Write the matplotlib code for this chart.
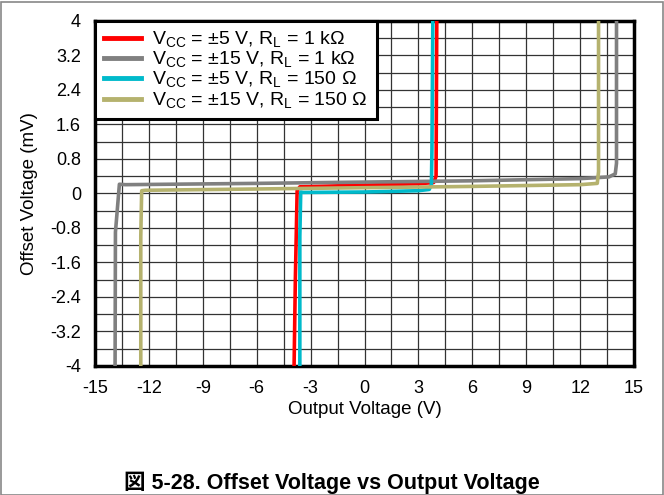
import matplotlib.pyplot as plt
import matplotlib.patches as mpatches

plt.rcParams['font.family'] = ['Liberation Sans', 'DejaVu Sans']
plt.rcParams['mathtext.fontset'] = 'custom'
plt.rcParams['mathtext.rm'] = 'Liberation Sans'

# output voltage (V) vs offset voltage (mV)
red_x = [-3.92, -3.85, -3.75, -3.6, 0.0, 3.0, 3.85, 3.98, 4.02]
red_y = [-4.0, -2.0, 0.06, 0.15, 0.19, 0.22, 0.25, 0.4, 4.0]

gray_x = [-13.88, -13.86, -13.8, -13.64, -13.3, -6.0, 0.0, 6.0, 12.0, 13.6, 13.95, 14.02, 14.02]
gray_y = [-4.0, -0.9, -0.6, 0.21, 0.2, 0.23, 0.26, 0.29, 0.34, 0.38, 0.45, 0.7, 4.0]

cyan_x = [-3.6, -3.6, -3.55, -3.4, 0.0, 3.0, 3.6, 3.72, 3.75, 3.8]
cyan_y = [-4.0, -1.0, 0.03, 0.02, 0.03, 0.06, 0.09, 0.2, 1.0, 4.0]

tan_x = [-12.45, -12.45, -12.4, -12.2, -6.0, 0.0, 6.0, 12.0, 12.95, 13.02, 13.02]
tan_y = [-4.0, -1.0, 0.06, 0.07, 0.1, 0.13, 0.16, 0.2, 0.23, 0.5, 4.0]

labels = [r'V$_{\mathrm{CC}}$ = ±5 V, R$_{\mathrm{L}}$ = 1 kΩ',
          r'V$_{\mathrm{CC}}$ = ±15 V, R$_{\mathrm{L}}$ = 1 kΩ',
          r'V$_{\mathrm{CC}}$ = ±5 V, R$_{\mathrm{L}}$ = 150 Ω',
          r'V$_{\mathrm{CC}}$ = ±15 V, R$_{\mathrm{L}}$ = 150 Ω']
colors = ['#ff0000', '#808080', '#00bacb', '#b5b26e']

x_ticks = [-15, -12, -9, -6, -3, 0, 3, 6, 9, 12, 15]
y_ticks = [-4, -3.2, -2.4, -1.6, -0.8, 0, 0.8, 1.6, 2.4, 3.2, 4]

fig = plt.figure(figsize=(6.64, 4.95), dpi=100)
ax = fig.add_axes([0.143, 0.261, 0.812, 0.697])

for xs, ys, c, lab in zip([red_x, gray_x, cyan_x, tan_x], [red_y, gray_y, cyan_y, tan_y], colors, labels):
    ax.plot(xs, ys, color=c, lw=2.6, label=lab, zorder=3, solid_joinstyle='round')

ax.set_xlim(-15, 15)
ax.set_ylim(-4, 4)
ax.set_xticks(x_ticks)
ax.set_xticklabels([str(t) for t in x_ticks])
ax.set_yticks(y_ticks)
ax.set_yticklabels(['-4', '-3.2', '-2.4', '-1.6', '-0.8', '0', '0.8', '1.6', '2.4', '3.2', '4'])
ax.set_xticks([x + 1.5 for x in x_ticks[:-1]], minor=True)
ax.set_yticks([y + 0.4 for y in y_ticks[:-1]], minor=True)
ax.grid(True, which='both', color='#333333', lw=0.9)
ax.tick_params(which='both', length=0, labelsize=13)
ax.tick_params(axis='x', pad=10)
ax.tick_params(axis='y', pad=10)
for s in ax.spines.values():
    s.set_linewidth(2.5)
ax.set_xlabel('Output Voltage (V)', fontsize=13.5, labelpad=3)
ax.set_ylabel('Offset Voltage (mV)', fontsize=13.5, labelpad=9)

leg = ax.legend(loc='upper left', fontsize=14, handlelength=1.9, borderaxespad=0,
                labelspacing=0.0, fancybox=False, framealpha=1, borderpad=0.45, handletextpad=0.6)
leg.get_frame().set_edgecolor('black')
leg.get_frame().set_linewidth(2.2)
for h in leg.get_lines():
    h.set_linewidth(3.5)

fig.text(0.5, 0.025, '図 5-28. Offset Voltage vs Output Voltage', ha='center', va='center',
         fontsize=15.5, fontweight='bold',
         family=['Liberation Sans', 'Noto Sans CJK JP'])

fig.patches.append(mpatches.Rectangle((0.001, 0.001), 0.998, 0.994, transform=fig.transFigure,
                                      fill=False, edgecolor='#888888', lw=1.2))

fig.savefig('out.png', dpi=100)
